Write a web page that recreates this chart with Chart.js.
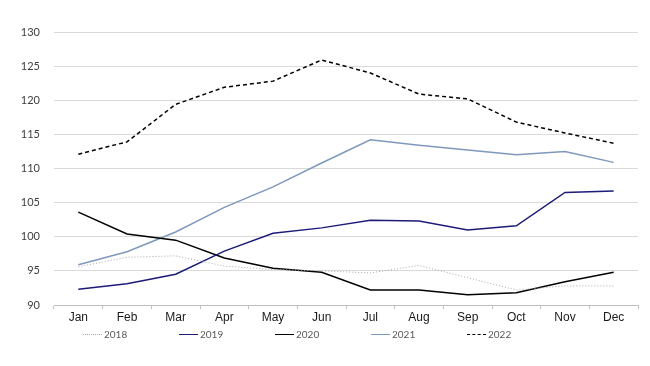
<!DOCTYPE html>
<html>
<head>
<meta charset="utf-8">
<script src="https://cdn.jsdelivr.net/npm/chart.js@4/dist/chart.umd.min.js"></script>
<style>
  html, body { margin: 0; padding: 0; background: #fff; }
  .wrap { position: relative; width: 650px; height: 366px; }
  #legend { position: absolute; left: 83px; top: 328px; display: flex; font-family: Lato, "Open Sans", sans-serif; font-size: 10px; color: #595959; }
  .lg-item { width: 96px; display: flex; align-items: center; gap: 2px; }
  .lg-line { width: 19px; height: 0; display: inline-block; }
</style>
</head>
<body>
<div class="wrap">
  <canvas id="c" width="650" height="366"></canvas>
  <div id="legend"></div>
</div>
<script>
const months = ['Jan', 'Feb', 'Mar', 'Apr', 'May', 'Jun', 'Jul', 'Aug', 'Sep', 'Oct', 'Nov', 'Dec']
const s2018 = [95.6, 97.0, 97.2, 95.7, 95.2, 95.0, 94.7, 95.8, 94.0, 92.2, 92.8, 92.8]
const s2019 = [92.3, 93.1, 94.5, 97.9, 100.5, 101.3, 102.4, 102.3, 101.0, 101.6, 106.5, 106.7]
const s2020 = [103.6, 100.4, 99.5, 96.9, 95.4, 94.8, 92.2, 92.2, 91.5, 91.8, 93.4, 94.8]
const s2021 = [95.9, 97.8, 100.7, 104.3, 107.3, 110.8, 114.2, 113.4, 112.7, 112.0, 112.5, 110.9]
const s2022 = [112.1, 113.9, 119.4, 121.9, 122.8, 125.9, 124.0, 120.9, 120.2, 116.8, 115.2, 113.7]
const yMin = 90, yMax = 130, yStep = 5

// html legend built from the chart's own legend items
const htmlLegend = {
  id: 'htmlLegend',
  afterUpdate(chart) {
    const box = document.getElementById('legend')
    box.innerHTML = ''
    chart.options.plugins.legend.labels.generateLabels(chart).forEach(item => {
      const ds = chart.data.datasets[item.datasetIndex]
      const el = document.createElement('div')
      el.className = 'lg-item'
      const ln = document.createElement('span')
      ln.className = 'lg-line'
      ln.style.borderTop = `${ds.borderWidth}px ${ds.legendStyle} ${ds.borderColor}`
      const tx = document.createElement('span')
      tx.textContent = item.text
      el.appendChild(ln); el.appendChild(tx)
      box.appendChild(el)
    })
  }
}

const line = (label, data, color, width, dash, legendStyle) => ({
  label, data, borderColor: color, backgroundColor: color, borderWidth: width,
  borderDash: dash, pointRadius: 0, tension: 0, fill: false, legendStyle
})

new Chart(document.getElementById('c'), {
  type: 'line',
  data: {
    labels: months,
    datasets: [
      line('2018', s2018, '#a8a8a8', 1, [1, 2], 'dotted'),
      line('2019', s2019, '#1c1c78', 1.5, [], 'solid'),
      line('2020', s2020, '#000000', 1.5, [], 'solid'),
      line('2021', s2021, '#7f98bd', 1.5, [], 'solid'),
      line('2022', s2022, '#000000', 1.5, [4, 3], 'dashed')
    ]
  },
  options: {
    responsive: false, animation: false,
    layout: { padding: { top: 32, right: 12, bottom: 41, left: 0 } },
    plugins: { legend: { display: false }, tooltip: { enabled: false } },
    scales: {
      x: {
        offset: true,
        grid: { drawOnChartArea: false, drawTicks: true, tickLength: 4, offset: true, color: '#bfbfbf' },
        border: { color: '#bfbfbf' },
        ticks: { color: '#1a1a1a', padding: 1, font: { family: 'Liberation Sans', size: 12 } },
        afterFit: s => { s.height = 20 }
      },
      y: {
        min: yMin, max: yMax,
        grid: { color: '#dadada', drawTicks: false },
        border: { display: false },
        ticks: { stepSize: yStep, color: '#404040', padding: 14, font: { family: 'Lato', size: 11 } },
        afterFit: s => { s.width = 54 }
      }
    }
  },
  plugins: [htmlLegend]
})
</script>
</body>
</html>
